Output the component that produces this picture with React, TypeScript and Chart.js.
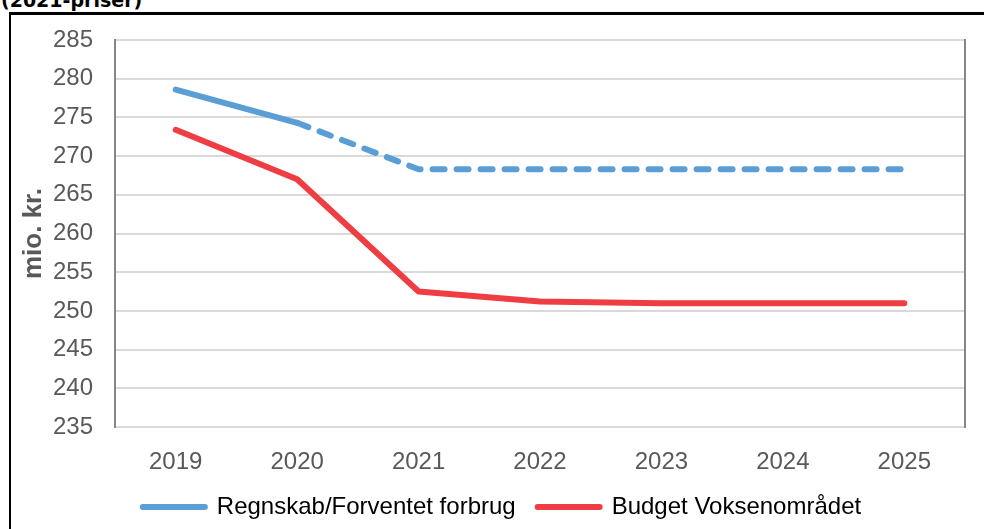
import React, { useEffect, useRef } from "react";
import { Chart, registerables } from "chart.js";

Chart.register(...registerables);

const categories = ["2019", "2020", "2021", "2022", "2023", "2024", "2025"];
const regnskab = [278.6, 274.3, 268.3, 268.3, 268.3, 268.3, 268.3];
const budget = [273.4, 267.0, 252.5, 251.2, 251.0, 251.0, 251.0];
const seriesNames = ["Regnskab/Forventet forbrug", "Budget Voksenområdet"];
const yMin = 235;
const yMax = 285;
const yStep = 5;
const titleText = "(2021-priser)";
const yTitle = "mio. kr.";

const BLUE = "#5A9ED6";
const RED = "#EE3E44";
const TEXT = "#595959";
const FONT = "'Liberation Sans', Arial, sans-serif";

const legendShift = {
  id: "legendShift",
  afterLayout(chart: any) {
    if (chart.legend) {
      chart.legend.left += 14;
      chart.legend.right += 14;
    }
  },
};

export default function App() {
  const ref = useRef<HTMLCanvasElement | null>(null);

  useEffect(() => {
    if (!ref.current) return;
    const chart = new Chart(ref.current, {
      type: "line",
      data: {
        labels: categories,
        datasets: [
          {
            label: seriesNames[0],
            data: regnskab,
            borderColor: BLUE,
            backgroundColor: BLUE,
            borderWidth: 6,
            borderCapStyle: "round",
            borderJoinStyle: "round",
            pointRadius: 0,
            tension: 0,
            segment: {
              borderDash: (ctx: any) => (ctx.p0DataIndex >= 1 ? [12, 12] : undefined),
            },
          },
          {
            label: seriesNames[1],
            data: budget,
            borderColor: RED,
            backgroundColor: RED,
            borderWidth: 6,
            borderCapStyle: "round",
            borderJoinStyle: "round",
            pointRadius: 0,
            tension: 0,
          },
        ],
      },
      plugins: [legendShift],
      options: {
        animation: false,
        responsive: true,
        maintainAspectRatio: false,
        layout: { padding: { left: 0, right: 19, top: 25, bottom: 0 } },
        plugins: {
          tooltip: { enabled: false },
          legend: {
            position: "bottom",
            labels: {
              usePointStyle: true,
              pointStyle: "line",
              pointStyleWidth: 62,
              boxHeight: 6,
              padding: 22,
              color: TEXT,
              font: { family: FONT, size: 24 },
              generateLabels: (c: any) =>
                c.data.datasets.map((ds: any, i: number) => ({
                  text: ds.label,
                  strokeStyle: ds.borderColor,
                  fillStyle: ds.borderColor,
                  lineWidth: 6,
                  lineCap: "round",
                  lineDash: [],
                  pointStyle: "line",
                  hidden: false,
                  datasetIndex: i,
                })),
            },
          },
        },
        scales: {
          x: {
            type: "category",
            offset: true,
            grid: { display: false, drawTicks: false },
            border: { display: false },
            ticks: {
              color: TEXT,
              padding: 21,
              font: { family: FONT, size: 24 },
              maxRotation: 0,
            },
            afterFit: (s: any) => {
              s.height = 46;
            },
          },
          y: {
            min: yMin,
            max: yMax,
            ticks: {
              stepSize: yStep,
              color: TEXT,
              padding: 22,
              font: { family: FONT, size: 24 },
            },
            grid: { color: "#D9D9D9", lineWidth: 2, drawTicks: false },
            border: { color: "#868686", width: 2 },
            title: {
              display: true,
              text: yTitle,
              color: TEXT,
              font: { family: FONT, size: 26, weight: "bold", lineHeight: 1.2 },
              padding: { top: 7, bottom: 0 },
            },
            afterFit: (s: any) => {
              s.width = 104;
              s.paddingTop = 0;
              s.paddingBottom = 0;
            },
          },
          y2: {
            position: "right",
            display: true,
            ticks: { display: false },
            grid: { drawOnChartArea: false, drawTicks: false },
            border: { color: "#868686", width: 2 },
            afterFit: (s: any) => {
              s.width = 0;
              s.paddingTop = 0;
              s.paddingBottom = 0;
            },
          },
        },
      },
    });
    return () => chart.destroy();
  }, []);

  return (
    <div
      style={{
        position: "fixed",
        left: 0,
        top: 0,
        width: 984,
        height: 529,
        overflow: "hidden",
        background: "#fff",
      }}
    >
      <div
        style={{
          position: "absolute",
          left: 1,
          top: -9,
          font: "bold 19px 'DejaVu Sans', Verdana, sans-serif",
          lineHeight: "19px",
          color: "#000",
          whiteSpace: "nowrap",
        }}
      >
        {titleText}
      </div>
      <div
        style={{
          position: "absolute",
          left: 9,
          top: 12,
          width: 1100,
          height: 700,
          borderTop: "3px solid #000",
          borderLeft: "2px solid #000",
          boxSizing: "border-box",
        }}
      />
      <div
        style={{
          position: "absolute",
          left: 11,
          top: 15,
          width: 973,
          height: 514,
        }}
      >
        <canvas ref={ref} />
      </div>
    </div>
  );
}
